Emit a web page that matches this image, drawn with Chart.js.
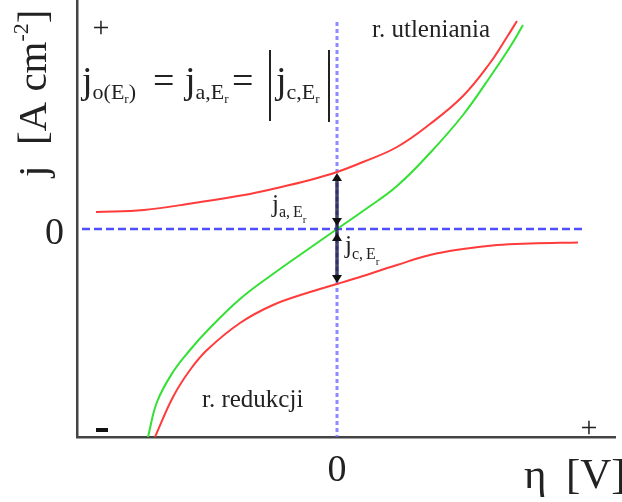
<!DOCTYPE html>
<html>
<head>
<meta charset="utf-8">
<script src="https://cdn.jsdelivr.net/npm/chart.js@4/dist/chart.umd.min.js"></script>
<style>
  body { margin: 0; background: #fff; }
  #wrap { width: 622px; height: 502px; position: relative; }
</style>
</head>
<body>
<div id="wrap"><canvas id="myChart"></canvas></div>
<script>
'use strict';

// overpotential (eta) and current density (j)
const etaAnodic = [-2.41, -1.93, -1.43, -0.93, -0.60, -0.27, 0, 0.26, 0.60, 0.93, 1.26, 1.53, 1.70, 1.80];
const jAnodic = [0.17, 0.19, 0.26, 0.34, 0.41, 0.49, 0.57, 0.67, 0.82, 1.05, 1.33, 1.66, 1.92, 2.08];

const etaCathodic = [-1.82, -1.64, -1.47, -1.30, -0.97, -0.64, -0.30, 0, 0.26, 0.60, 0.93, 1.26, 1.60, 1.93, 2.41];
const jCathodic = [-2.08, -1.68, -1.41, -1.21, -0.94, -0.76, -0.64, -0.55, -0.47, -0.36, -0.26, -0.20, -0.16, -0.145, -0.135];

const etaNet = [-1.89, -1.80, -1.64, -1.47, -1.30, -0.97, -0.64, -0.30, 0, 0.26, 0.60, 0.93, 1.26, 1.53, 1.73, 1.86];
const jNet = [-2.08, -1.73, -1.43, -1.21, -1.02, -0.70, -0.45, -0.21, 0, 0.18, 0.43, 0.76, 1.14, 1.52, 1.82, 2.04];

// dashed guide lines through the origin
const guideEta = [-2.55, 2.45];
const guideJ = [2.07, -2.08];

// tick labels
const xTickLabels = ['0'];
const yTickLabels = ['0'];

const serif = '"Liberation Serif", "Times New Roman", serif';
const textColor = '#222';

function toPoints(xs, ys) {
  let pts = [];
  for (let i = 0; i < xs.length; i++) {
    pts.push({ x: xs[i], y: ys[i] });
  }
  return pts;
}

// draws a run of [text, size, dy, gap] pieces from x
function drawRich(ctx, parts, x, y) {
  for (let p of parts) {
    ctx.font = p[1] + 'px ' + serif;
    ctx.fillText(p[0], x, y + (p[2] || 0));
    x += ctx.measureText(p[0]).width + (p[3] || 0);
  }
  return x;
}

function arrowHead(ctx, x, y, dir) {
  ctx.beginPath();
  ctx.moveTo(x, y);
  ctx.lineTo(x - 5, y - 8 * dir);
  ctx.lineTo(x + 5, y - 8 * dir);
  ctx.closePath();
  ctx.fill();
}

const labelsPlugin = {
  id: 'labels',
  afterDatasetsDraw(chart) {
    const ctx = chart.ctx;
    const xs = chart.scales.x;
    const ys = chart.scales.y;
    const x0 = xs.getPixelForValue(0);
    const y0 = ys.getPixelForValue(0);
    const yA = ys.getPixelForValue(jAnodic[etaAnodic.indexOf(0)]);
    const yC = ys.getPixelForValue(jCathodic[etaCathodic.indexOf(0)]);

    ctx.save();
    // double arrows for j_a and j_c at eta = 0
    ctx.strokeStyle = 'rgba(35,35,80,0.85)';
    ctx.fillStyle = '#111';
    ctx.lineWidth = 3.5;
    ctx.beginPath();
    ctx.moveTo(x0, yA + 4);
    ctx.lineTo(x0, yC - 4);
    ctx.stroke();
    arrowHead(ctx, x0, yA + 1, -1);
    arrowHead(ctx, x0, y0 - 3, 1);
    arrowHead(ctx, x0, y0 + 4, -1);
    arrowHead(ctx, x0, yC - 1, 1);

    ctx.fillStyle = textColor;
    ctx.textBaseline = 'alphabetic';

    // tick labels
    ctx.font = '38px ' + serif;
    ctx.textAlign = 'right';
    ctx.fillText(yTickLabels[0], 64, y0 + 15);
    ctx.textAlign = 'center';
    ctx.fillText(xTickLabels[0], x0, 481);

    // axis titles
    ctx.textAlign = 'left';
    drawRich(ctx, [['\u03b7', 43]], 524, 488);
    drawRich(ctx, [['[V]', 43]], 566, 488);

    ctx.save();
    ctx.translate(46, 177);
    ctx.rotate(-Math.PI / 2);
    drawRich(ctx, [['j  [A cm', 41], ['-2', 22, -18], [']', 41]], 0, 0);
    ctx.restore();

    // signs
    ctx.textAlign = 'center';
    ctx.font = '30px ' + serif;
    ctx.fillText('+', 101, 37);
    ctx.fillText('+', 589, 437);
    ctx.fillStyle = '#111';
    ctx.fillRect(96, 428, 12, 4);
    ctx.fillStyle = textColor;

    // reaction names
    ctx.textAlign = 'left';
    ctx.font = '25px ' + serif;
    ctx.fillText('r. utleniania', 372, 37);
    ctx.fillText('r. redukcji', 202, 407);

    // equation j_o(Er) = j_a,Er = |j_c,Er|
    drawRich(ctx, [['j', 38], ['o(E', 22, 6], ['r', 13, 10], [')', 22, 6]], 82, 93);
    drawRich(ctx, [['=', 38]], 153, 93);
    drawRich(ctx, [['j', 38], ['a,E', 22, 6], ['r', 13, 10]], 185, 93);
    drawRich(ctx, [['=', 38]], 232, 93);
    drawRich(ctx, [['j', 38], ['c,E', 22, 6], ['r', 13, 10]], 276, 93);
    ctx.strokeStyle = '#222';
    ctx.lineWidth = 2;
    ctx.beginPath();
    ctx.moveTo(270, 50);
    ctx.lineTo(270, 121);
    ctx.moveTo(329, 50);
    ctx.lineTo(329, 122);
    ctx.stroke();

    // arrow labels
    drawRich(ctx, [['j', 25], ['a,', 16, 5, 3], ['E', 16, 5], ['r', 11, 11]], 272, 212);
    drawRich(ctx, [['j', 25], ['c,', 16, 6, 3], ['E', 16, 6], ['r', 11, 12]], 345, 253);
    ctx.restore();
  }
};

const data = {
  datasets: [{
    label: 'anodic',
    data: toPoints(etaAnodic, jAnodic),
    borderColor: '#ff3b3b',
    borderWidth: 2,
    pointRadius: 0,
    tension: 0.4
  },
  {
    label: 'cathodic',
    data: toPoints(etaCathodic, jCathodic),
    borderColor: '#ff3b3b',
    borderWidth: 2,
    pointRadius: 0,
    tension: 0.4
  },
  {
    label: 'net',
    data: toPoints(etaNet, jNet),
    borderColor: '#33e033',
    borderWidth: 2,
    pointRadius: 0,
    tension: 0.4
  },
  {
    label: 'h0',
    data: toPoints(guideEta, [0, 0]),
    borderColor: 'rgba(60,60,255,0.9)',
    borderWidth: 2.5,
    borderDash: [8, 4],
    pointRadius: 0
  },
  {
    label: 'v0',
    data: toPoints([0, 0], guideJ),
    borderColor: 'rgba(110,110,255,0.8)',
    borderWidth: 3,
    borderDash: [4, 3],
    pointRadius: 0
  }]
};

const config = {
  type: 'line',
  data: data,
  options: {
    responsive: true,
    maintainAspectRatio: false,
    animation: false,
    layout: {
      padding: { left: 77, right: 7, top: 0, bottom: 65 }
    },
    plugins: {
      legend: { display: false },
      tooltip: { enabled: false }
    },
    scales: {
      x: {
        type: 'linear',
        min: -2.6,
        max: 2.78,
        ticks: { display: false },
        grid: { display: false, drawTicks: false },
        border: { display: true, color: '#444', width: 2.5 },
        afterFit: (s) => { s.height = 0; }
      },
      y: {
        type: 'linear',
        min: -2.08,
        max: 2.29,
        ticks: { display: false },
        grid: { display: false, drawTicks: false },
        border: { display: true, color: '#444', width: 2.5 },
        afterFit: (s) => { s.width = 0; }
      }
    }
  },
  plugins: [labelsPlugin]
};

let canvasChart = document.getElementById('myChart');
const myChart = new Chart(canvasChart, config);
</script>
</body>
</html>
